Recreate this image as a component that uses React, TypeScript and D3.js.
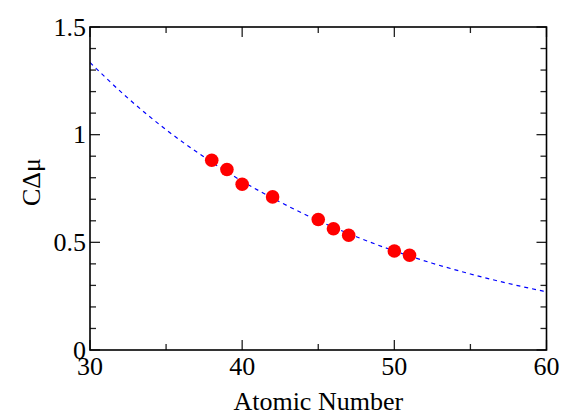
import React from "react";
import * as d3 from "d3";

const pointX = [38, 39, 40, 42, 45, 46, 47, 50, 51];
const pointY = [0.881, 0.838, 0.770, 0.711, 0.606, 0.563, 0.533, 0.460, 0.440];

const fitX = [30, 32.5, 35, 37.5, 40, 42.5, 45, 47.5, 50, 52.5, 55, 57.5, 60];
const fitY = [1.335, 1.169, 1.023, 0.896, 0.784, 0.687, 0.601, 0.526, 0.46, 0.403, 0.353, 0.309, 0.27];

const xMajor = [30, 40, 50, 60];
const xMinor = [35, 45, 55];
const yMajor = [0, 0.5, 1, 1.5];
const yMinor = [0.1, 0.2, 0.3, 0.4, 0.6, 0.7, 0.8, 0.9, 1.1, 1.2, 1.3, 1.4];

const W = 561, H = 415;
const L = 90, R = 546.5, T = 27, B = 350;

export default function App() {
  const x = d3.scaleLinear().domain([30, 60]).range([L, R]);
  const y = d3.scaleLinear().domain([0, 1.5]).range([B, T]);
  const line = d3
    .line<number>()
    .x((_, i) => x(fitX[i]))
    .y((d) => y(d))
    .curve(d3.curveMonotoneX);
  const font = "'Liberation Serif', 'Times New Roman', serif";
  const major = 10, minor = 6;
  return (
    <svg width={W} height={H} style={{ position: "absolute", left: 0, top: 0, display: "block" }}>
      <rect x={0} y={0} width={W} height={H} fill="#fff" />
      <defs>
        <clipPath id="plot">
          <rect x={L} y={T} width={R - L} height={B - T} />
        </clipPath>
      </defs>
      <path
        d={line(fitY) || ""}
        fill="none"
        stroke="#0000ff"
        strokeWidth={1.2}
        strokeDasharray="4 4"
        clipPath="url(#plot)"
      />
      {pointX.map((px, i) => (
        <circle key={i} cx={x(px)} cy={y(pointY[i])} r={6.8} fill="#ff0000" />
      ))}
      <g stroke="#222" strokeWidth={1.3}>
        {xMajor.map((v) => (
          <g key={"xm" + v}>
            <line x1={x(v)} x2={x(v)} y1={B} y2={B - major} />
            <line x1={x(v)} x2={x(v)} y1={T} y2={T + major} />
          </g>
        ))}
        {xMinor.map((v) => (
          <g key={"xn" + v}>
            <line x1={x(v)} x2={x(v)} y1={B} y2={B - minor} />
            <line x1={x(v)} x2={x(v)} y1={T} y2={T + minor} />
          </g>
        ))}
        {yMajor.map((v) => (
          <g key={"ym" + v}>
            <line x1={L} x2={L + major} y1={y(v)} y2={y(v)} />
            <line x1={R} x2={R - major} y1={y(v)} y2={y(v)} />
          </g>
        ))}
        {yMinor.map((v) => (
          <g key={"yn" + v}>
            <line x1={L} x2={L + minor} y1={y(v)} y2={y(v)} />
            <line x1={R} x2={R - minor} y1={y(v)} y2={y(v)} />
          </g>
        ))}
      </g>
      <rect x={L} y={T} width={R - L} height={B - T} fill="none" stroke="#000" strokeWidth={1.6} />
      <g fontFamily={font} fontSize={26} fill="#000">
        {xMajor.map((v) => (
          <text key={"xl" + v} x={x(v)} y={B + 25} textAnchor="middle">
            {v}
          </text>
        ))}
        {yMajor.map((v) => (
          <text key={"yl" + v} x={L - 4} y={y(v) + 8.5} textAnchor="end">
            {v}
          </text>
        ))}
      </g>
      <text x={(L + R) / 2} y={410} textAnchor="middle" fontFamily={font} fontSize={26}>
        Atomic Number
      </text>
      <text
        transform={`translate(40, 182) rotate(-90)`}
        textAnchor="middle"
        fontFamily={font}
        fontSize={26}
      >
        CΔμ
      </text>
    </svg>
  );
}
